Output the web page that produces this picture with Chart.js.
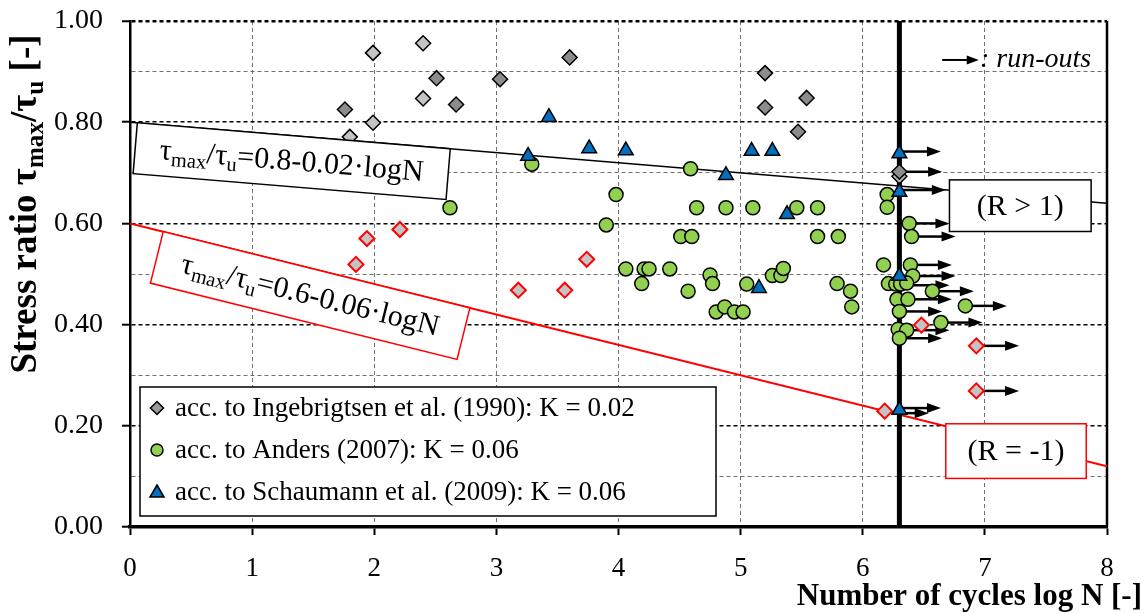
<!DOCTYPE html>
<html>
<head>
<meta charset="utf-8">
<script src="https://cdn.jsdelivr.net/npm/chart.js@4.4.0/dist/chart.umd.min.js"></script>
<style>
  body { margin: 0; background: #fff; }
  #wrap { width: 1148px; height: 614px; }
</style>
</head>
<body>
<div id="wrap"><canvas id="fatigueChart" width="1148" height="614"></canvas></div>
<script>
// --- data (x = log N, y = tau_max / tau_u) ---
const ingebDarkX = [2.51, 3.03, 1.76, 2.67, 3.60, 5.20, 5.20, 5.54, 5.47, 6.30];
const ingebDarkY = [0.887, 0.885, 0.825, 0.835, 0.928, 0.897, 0.829, 0.848, 0.781, 0.702];

const ingebLightX = [1.99, 2.40, 2.40, 1.99, 1.80, 6.30];
const ingebLightY = [0.937, 0.956, 0.847, 0.799, 0.771, 0.693];

// R = -1 tests (red outlined diamonds)
const reversedX = [1.85, 1.94, 2.21, 3.74, 3.18, 3.56, 6.48, 6.93, 6.93, 6.18];
const reversedY = [0.519, 0.570, 0.588, 0.529, 0.468, 0.468, 0.399, 0.358, 0.269, 0.229];

const andersX = [2.62, 3.29, 3.98, 3.90, 4.59, 4.64, 4.88, 5.10, 5.46, 5.63,
                 4.51, 4.60, 5.63, 5.80, 4.06, 4.21, 4.25, 4.42, 4.19, 4.57,
                 4.75, 4.77, 4.80, 4.87, 4.95, 5.02, 5.05, 5.26, 5.33, 5.35,
                 5.79, 5.90, 5.91, 6.17, 6.20, 6.20, 6.38, 6.40, 6.39, 6.41,
                 6.21, 6.27, 6.31, 6.36, 6.57, 6.28, 6.37, 6.84, 6.30, 6.64,
                 6.29, 6.36, 6.30];
const andersY = [0.631, 0.717, 0.657, 0.597, 0.708, 0.631, 0.631, 0.631, 0.631, 0.631,
                 0.574, 0.574, 0.574, 0.574, 0.510, 0.510, 0.510, 0.510, 0.481, 0.466,
                 0.498, 0.481, 0.425, 0.435, 0.425, 0.425, 0.480, 0.497, 0.497, 0.511,
                 0.481, 0.466, 0.435, 0.518, 0.657, 0.632, 0.600, 0.574, 0.518, 0.496,
                 0.481, 0.480, 0.480, 0.482, 0.466, 0.450, 0.450, 0.437, 0.426, 0.404,
                 0.391, 0.389, 0.373];

const schaumannX = [3.43, 3.26, 3.76, 4.06, 4.88, 5.09, 5.26, 5.38, 5.15, 6.30, 6.30, 6.30, 6.30];
const schaumannY = [0.810, 0.733, 0.748, 0.744, 0.695, 0.743, 0.743, 0.618, 0.472, 0.738, 0.662, 0.496, 0.231];

// run-outs: start point and arrow tip
const runoutX    = [6.30, 6.30, 6.30, 6.38, 6.40, 6.39, 6.41, 6.31, 6.57, 6.37, 6.84, 6.30, 6.64, 6.36, 6.30, 6.93, 6.93, 6.30, 6.30];
const runoutY    = [0.742, 0.702, 0.666, 0.600, 0.574, 0.518, 0.496, 0.478, 0.466, 0.450, 0.437, 0.426, 0.404, 0.389, 0.373, 0.358, 0.269, 0.235, 0.225];
const runoutEndX = [6.64, 6.65, 6.68, 6.71, 6.76, 6.73, 6.76, 6.71, 6.91, 6.73, 7.18, 6.65, 6.98, 6.71, 6.65, 7.28, 7.28, 6.64, 6.54];

// design lines
const lineX = [0, 8];
const lineR1Y = [0.80, 0.64];   // 0.8 - 0.02 logN
const lineRm1Y = [0.60, 0.12];  // 0.6 - 0.06 logN
const limitX = [6.3, 6.3];
const limitY = [0, 1];

const legendLabels = [
  'acc. to Ingebrigtsen et al. (1990): K = 0.02',
  'acc. to Anders (2007): K = 0.06',
  'acc. to Schaumann et al. (2009): K = 0.06'
];

const SERIF = '"Liberation Serif", "Times New Roman", serif';
const pts = (xs, ys) => xs.map((x, i) => ({ x: x, y: ys[i] }));
const isMajor = v => Math.round(v * 10) % 2 === 0;

function drawArrow(ctx, x1, x2, y, head, half, lw) {
  ctx.lineWidth = lw;
  ctx.beginPath();
  ctx.moveTo(x1, y);
  ctx.lineTo(x2 - head + 1, y);
  ctx.stroke();
  ctx.beginPath();
  ctx.moveTo(x2, y);
  ctx.lineTo(x2 - head, y - half);
  ctx.lineTo(x2 - head, y + half);
  ctx.closePath();
  ctx.fill();
}

// text made of normal and subscript pieces
function richWidth(ctx, parts, size, bold) {
  let w = 0;
  parts.forEach(p => {
    ctx.font = (bold ? 'bold ' : '') + (p[1] ? size * 0.68 : size) + 'px ' + SERIF;
    w += ctx.measureText(p[0]).width;
  });
  return w;
}
function richText(ctx, parts, x, y, size, bold) {
  ctx.textAlign = 'left';
  ctx.textBaseline = 'middle';
  let cx = x;
  parts.forEach(p => {
    ctx.font = (bold ? 'bold ' : '') + (p[1] ? size * 0.68 : size) + 'px ' + SERIF;
    ctx.fillText(p[0], cx, p[1] ? y + size * 0.28 : y);
    cx += ctx.measureText(p[0]).width;
  });
}

function lineLabel(ctx, xs, ys, lys, atX, len, h, color, parts) {
  const px0 = xs.getPixelForValue(lineX[0]), py0 = ys.getPixelForValue(lys[0]);
  const px1 = xs.getPixelForValue(lineX[1]), py1 = ys.getPixelForValue(lys[1]);
  const ang = Math.atan2(py1 - py0, px1 - px0);
  const ax = xs.getPixelForValue(atX);
  const ay = py0 + (py1 - py0) * (ax - px0) / (px1 - px0);
  ctx.save();
  ctx.translate(ax, ay);
  ctx.rotate(ang);
  ctx.fillStyle = '#fff';
  ctx.fillRect(0, 0, len, h);
  ctx.strokeStyle = color;
  ctx.lineWidth = 1.5;
  ctx.strokeRect(0, 0, len, h);
  ctx.fillStyle = '#000';
  const w = richWidth(ctx, parts, 30);
  richText(ctx, parts, (len - w) / 2, h / 2 + 1, 30);
  ctx.restore();
}

function textBox(ctx, xs, ys, b, color, label) {
  const l = xs.getPixelForValue(b[0]), r = xs.getPixelForValue(b[1]);
  const t = ys.getPixelForValue(b[2]), btm = ys.getPixelForValue(b[3]);
  ctx.fillStyle = '#fff';
  ctx.fillRect(l, t, r - l, btm - t);
  ctx.strokeStyle = color;
  ctx.lineWidth = 1.5;
  ctx.strokeRect(l, t, r - l, btm - t);
  ctx.fillStyle = '#000';
  ctx.font = '30px ' + SERIF;
  ctx.textAlign = 'center';
  ctx.textBaseline = 'middle';
  ctx.fillText(label, (l + r) / 2, (t + btm) / 2 + 1);
}

function marker(ctx, kind, x, y, fill) {
  ctx.fillStyle = fill;
  ctx.strokeStyle = '#000';
  ctx.lineWidth = 1.5;
  ctx.beginPath();
  if (kind === 'diamond') {
    ctx.moveTo(x, y - 6.5); ctx.lineTo(x + 6.5, y); ctx.lineTo(x, y + 6.5); ctx.lineTo(x - 6.5, y);
    ctx.closePath();
  } else if (kind === 'circle') {
    ctx.arc(x, y, 6, 0, Math.PI * 2);
  } else {
    ctx.moveTo(x, y - 7); ctx.lineTo(x + 7, y + 5); ctx.lineTo(x - 7, y + 5);
    ctx.closePath();
  }
  ctx.fill();
  ctx.stroke();
}

const decor = {
  id: 'decor',
  beforeDatasetsDraw(chart) {
    const { ctx, chartArea: a, scales: { x, y } } = chart;
    ctx.save();
    ctx.strokeStyle = '#000';
    ctx.fillStyle = '#000';
    ctx.lineWidth = 2.5;
    ctx.beginPath();
    ctx.moveTo(a.right, a.top);
    ctx.lineTo(a.right, a.bottom);
    ctx.stroke();
    runoutX.forEach((sx, i) => {
      drawArrow(ctx, x.getPixelForValue(sx), x.getPixelForValue(runoutEndX[i]),
        y.getPixelForValue(runoutY[i]), 14, 5, 2.5);
    });
    ctx.restore();
  },
  afterDatasetsDraw(chart) {
    const { ctx, chartArea: a, scales: { x, y } } = chart;
    ctx.save();
    lineLabel(ctx, x, y, lineR1Y, 0.06, 314, 51, '#000',
      [['τ'], ['max', 1], ['/τ'], ['u', 1], ['=0.8-0.02·logN']]);
    lineLabel(ctx, x, y, lineRm1Y, 0.272, 316, 53, '#ff0000',
      [['τ'], ['max', 1], ['/τ'], ['u', 1], ['=0.6-0.06·logN']]);
    textBox(ctx, x, y, [6.71, 7.87, 0.686, 0.584], '#000', '(R > 1)');
    textBox(ctx, x, y, [6.68, 7.83, 0.204, 0.096], '#ff0000', '(R = -1)');

    // run-out key
    ctx.strokeStyle = '#000';
    ctx.fillStyle = '#000';
    const ky = y.getPixelForValue(0.923);
    drawArrow(ctx, x.getPixelForValue(6.65), x.getPixelForValue(6.95), ky, 12, 4.5, 2);
    ctx.font = 'italic 28px ' + SERIF;
    ctx.textAlign = 'left';
    ctx.textBaseline = 'middle';
    ctx.fillText(': run-outs', x.getPixelForValue(6.96), ky);

    // legend
    const lx = a.left + 10, lt = a.bottom - 140, lw = 576, lh = 129;
    ctx.fillStyle = '#fff';
    ctx.fillRect(lx, lt, lw, lh);
    ctx.strokeStyle = '#000';
    ctx.lineWidth = 1.5;
    ctx.strokeRect(lx, lt, lw, lh);
    const kinds = [['diamond', '#999999'], ['circle', '#92d050'], ['triangle', '#0070c0']];
    legendLabels.forEach((lab, i) => {
      const ry = lt + 21 + i * 42;
      marker(ctx, kinds[i][0], lx + 17, ry, kinds[i][1]);
      ctx.fillStyle = '#000';
      ctx.font = '27px ' + SERIF;
      ctx.textAlign = 'left';
      ctx.textBaseline = 'middle';
      ctx.fillText(lab, lx + 35, ry + 1);
    });
    ctx.restore();
  },
  afterDraw(chart) {
    const { ctx, chartArea: a } = chart;
    ctx.save();
    ctx.fillStyle = '#000';
    // x title
    ctx.font = 'bold 31px ' + SERIF;
    ctx.textAlign = 'right';
    ctx.textBaseline = 'middle';
    ctx.fillText('Number of cycles log N [-]', 1142, a.bottom + 70);
    // y title
    const parts = [['Stress ratio τ'], ['max', 1], ['/τ'], ['u', 1], [' [-]']];
    ctx.translate(26, 204);
    ctx.rotate(-Math.PI / 2);
    const w = richWidth(ctx, parts, 37, true);
    richText(ctx, parts, -w / 2, 0, 37, true);
    ctx.restore();
  }
};

new Chart(document.getElementById('fatigueChart'), {
  type: 'scatter',
  data: {
    datasets: [
      {
        label: 'Schaumann', data: pts(schaumannX, schaumannY), order: 1,
        pointStyle: 'triangle', pointRadius: 8.5, backgroundColor: '#0070c0',
        borderColor: '#000', borderWidth: 1.5
      },
      {
        label: 'Ingebrigtsen', data: pts(ingebDarkX, ingebDarkY), order: 2,
        pointStyle: 'rectRot', pointRadius: 7.5, backgroundColor: '#8c8c8c',
        borderColor: '#000', borderWidth: 1.5
      },
      {
        label: 'Anders', data: pts(andersX, andersY), order: 3,
        pointStyle: 'circle', pointRadius: 7, backgroundColor: '#92d050',
        borderColor: '#000', borderWidth: 1.5
      },
      {
        label: 'Ingebrigtsen (light)', data: pts(ingebLightX, ingebLightY), order: 4,
        pointStyle: 'rectRot', pointRadius: 7.5, backgroundColor: '#c4c4c4',
        borderColor: '#000', borderWidth: 1.5
      },
      {
        label: 'R = -1', data: pts(reversedX, reversedY), order: 5,
        pointStyle: 'rectRot', pointRadius: 7.5, backgroundColor: '#c4c4c4',
        borderColor: '#ff0000', borderWidth: 2
      },
      {
        label: 'limit', data: pts(limitX, limitY), order: 10, showLine: true,
        pointRadius: 0, borderColor: '#000', borderWidth: 5
      },
      {
        label: 'R > 1 line', data: pts(lineX, lineR1Y), order: 11, showLine: true,
        pointRadius: 0, borderColor: '#000', borderWidth: 1.5
      },
      {
        label: 'R = -1 line', data: pts(lineX, lineRm1Y), order: 12, showLine: true,
        pointRadius: 0, borderColor: '#ff0000', borderWidth: 2
      }
    ]
  },
  options: {
    responsive: false,
    animation: false,
    events: [],
    layout: { padding: { top: 21, right: 41, left: 0, bottom: 0 } },
    plugins: { legend: { display: false }, tooltip: { enabled: false } },
    scales: {
      x: {
        type: 'linear', min: 0, max: 8,
        afterFit: s => { s.height = 87; },
        ticks: { stepSize: 1, color: '#000', font: { family: SERIF, size: 27 }, padding: 18 },
        grid: { color: '#707070', lineWidth: 1, tickLength: 8, tickColor: '#000', tickWidth: 2 },
        border: { color: '#000', width: 3.5, dash: [4, 3] }
      },
      y: {
        type: 'linear', min: 0, max: 1,
        afterFit: s => { s.width = 130; s.paddingTop = 0; s.paddingBottom = 0; },
        ticks: {
          stepSize: 0.1, color: '#000', font: { family: SERIF, size: 28 }, padding: 19,
          callback: v => isMajor(v) ? v.toFixed(2) : ''
        },
        grid: {
          color: c => (c.tick && isMajor(c.tick.value)) ? '#000' : '#707070',
          lineWidth: c => !c.tick ? 1 : (c.tick.value > 0.99 ? 2.5 : (isMajor(c.tick.value) ? 1.4 : 1)),
          tickLength: 8, tickWidth: 2,
          tickColor: c => (c.tick && isMajor(c.tick.value)) ? '#000' : 'rgba(0,0,0,0)'
        },
        border: { color: '#000', width: 2.5, dash: [4, 3] }
      }
    }
  },
  plugins: [decor]
});
</script>
</body>
</html>
